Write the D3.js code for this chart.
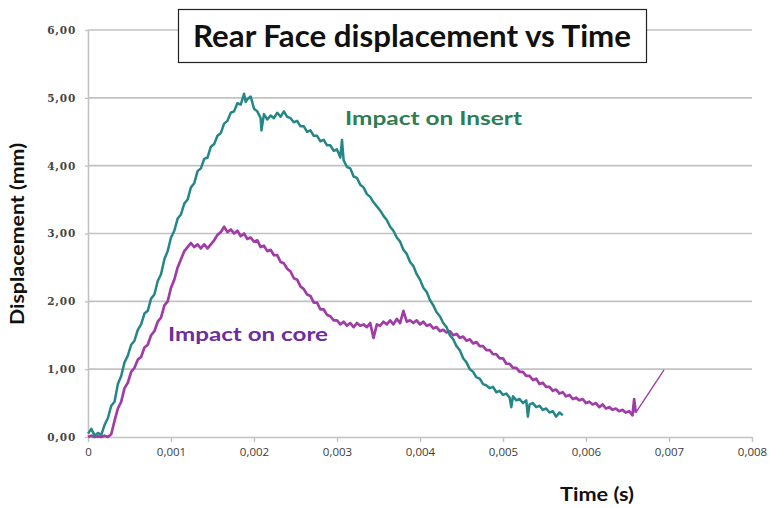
<!DOCTYPE html>
<html><head><meta charset="utf-8">
<script src="https://cdn.jsdelivr.net/npm/d3@7"></script>
<style>
html,body{margin:0;padding:0;background:#fff;}
svg{display:block;}
</style></head>
<body>
<svg id="c" width="770" height="508"></svg>
<script>
// ---- Data (time in ms, displacement in mm) ----
const insertTimeMs = [0.00,0.04,0.08,0.12,0.16,0.20,0.24,0.28,0.32,0.36,0.40,0.44,0.48,0.52,0.56,0.60,0.64,0.68,0.72,0.76,0.80,0.84,0.88,0.92,0.96,1.00,1.04,1.08,1.12,1.16,1.20,1.24,1.28,1.32,1.36,1.40,1.44,1.48,1.52,1.56,1.60,1.64,1.68,1.72,1.76,1.80,1.84,1.88,1.90,1.92,1.96,2.00,2.04,2.08,2.09,2.12,2.16,2.20,2.24,2.28,2.32,2.36,2.40,2.44,2.48,2.52,2.56,2.60,2.64,2.68,2.72,2.76,2.80,2.84,2.88,2.92,2.96,3.00,3.04,3.06,3.08,3.12,3.16,3.20,3.24,3.28,3.32,3.36,3.40,3.44,3.48,3.52,3.56,3.60,3.64,3.68,3.72,3.76,3.80,3.84,3.88,3.92,3.96,4.00,4.04,4.08,4.12,4.16,4.20,4.24,4.28,4.32,4.36,4.40,4.44,4.48,4.52,4.56,4.60,4.64,4.68,4.72,4.76,4.80,4.84,4.88,4.92,4.96,5.00,5.04,5.08,5.10,5.12,5.16,5.20,5.24,5.28,5.30,5.32,5.36,5.40,5.44,5.48,5.52,5.56,5.60,5.64,5.68,5.72];
const insertDisp   = [0.05,0.12,0.02,0.06,0.03,0.18,0.28,0.46,0.52,0.78,0.90,1.10,1.20,1.36,1.42,1.58,1.66,1.82,1.86,2.04,2.10,2.30,2.40,2.62,2.74,2.94,3.04,3.22,3.28,3.44,3.50,3.68,3.74,3.92,3.96,4.10,4.12,4.28,4.32,4.44,4.48,4.62,4.66,4.78,4.80,4.92,4.90,5.06,4.94,4.98,5.02,4.84,4.80,4.70,4.52,4.76,4.68,4.74,4.70,4.78,4.72,4.80,4.72,4.70,4.64,4.66,4.58,4.58,4.50,4.52,4.44,4.44,4.36,4.38,4.30,4.30,4.22,4.24,4.12,4.38,4.08,3.98,3.96,3.84,3.82,3.72,3.68,3.58,3.54,3.46,3.40,3.34,3.26,3.20,3.10,3.04,2.94,2.88,2.76,2.70,2.58,2.52,2.40,2.32,2.20,2.14,2.02,1.94,1.84,1.78,1.68,1.62,1.50,1.44,1.34,1.28,1.16,1.10,1.00,0.96,0.88,0.86,0.78,0.76,0.72,0.74,0.66,0.68,0.62,0.64,0.58,0.44,0.60,0.54,0.56,0.50,0.54,0.30,0.48,0.50,0.44,0.46,0.40,0.42,0.36,0.38,0.30,0.36,0.32];

const coreTimeMs = [0.00,0.04,0.08,0.12,0.16,0.20,0.24,0.28,0.32,0.36,0.40,0.44,0.48,0.52,0.56,0.60,0.64,0.68,0.72,0.76,0.80,0.84,0.88,0.92,0.96,1.00,1.04,1.08,1.12,1.16,1.20,1.24,1.28,1.32,1.36,1.40,1.44,1.48,1.52,1.56,1.60,1.64,1.68,1.72,1.76,1.80,1.84,1.88,1.92,1.96,2.00,2.04,2.08,2.12,2.16,2.20,2.24,2.28,2.32,2.36,2.40,2.44,2.48,2.52,2.56,2.60,2.64,2.68,2.72,2.76,2.80,2.84,2.88,2.92,2.96,3.00,3.04,3.08,3.12,3.16,3.20,3.24,3.28,3.32,3.36,3.40,3.44,3.48,3.52,3.56,3.60,3.64,3.68,3.72,3.76,3.80,3.84,3.88,3.92,3.96,4.00,4.04,4.08,4.12,4.16,4.20,4.24,4.28,4.32,4.36,4.40,4.44,4.48,4.52,4.56,4.60,4.64,4.68,4.72,4.76,4.80,4.84,4.88,4.92,4.96,5.00,5.04,5.08,5.12,5.16,5.20,5.24,5.28,5.32,5.36,5.40,5.44,5.48,5.52,5.56,5.60,5.64,5.68,5.72,5.76,5.80,5.84,5.88,5.92,5.96,6.00,6.04,6.08,6.12,6.16,6.20,6.24,6.28,6.32,6.36,6.40,6.44,6.48,6.52,6.56,6.58,6.60,6.94];
const coreDisp   = [0.00,0.02,0.00,0.01,0.00,0.02,0.00,0.04,0.24,0.42,0.52,0.72,0.80,0.96,1.02,1.14,1.18,1.32,1.36,1.50,1.56,1.70,1.76,1.94,2.00,2.20,2.32,2.50,2.62,2.74,2.80,2.86,2.80,2.84,2.78,2.84,2.78,2.84,2.90,2.98,3.02,3.10,3.02,3.06,3.00,3.04,2.96,3.00,2.92,2.94,2.88,2.90,2.80,2.82,2.74,2.76,2.68,2.68,2.58,2.56,2.48,2.44,2.34,2.32,2.22,2.18,2.10,2.08,1.98,1.98,1.88,1.88,1.80,1.78,1.72,1.72,1.66,1.70,1.64,1.68,1.62,1.68,1.64,1.66,1.62,1.68,1.46,1.66,1.64,1.70,1.66,1.72,1.66,1.74,1.68,1.86,1.70,1.72,1.68,1.72,1.66,1.70,1.64,1.66,1.60,1.62,1.56,1.58,1.54,1.56,1.50,1.52,1.46,1.48,1.42,1.44,1.38,1.40,1.34,1.34,1.28,1.28,1.22,1.22,1.16,1.16,1.08,1.08,1.02,1.02,0.96,0.96,0.90,0.90,0.84,0.86,0.78,0.80,0.74,0.74,0.68,0.70,0.64,0.66,0.60,0.62,0.56,0.58,0.54,0.56,0.50,0.52,0.48,0.50,0.44,0.48,0.42,0.44,0.40,0.42,0.38,0.40,0.36,0.38,0.32,0.56,0.36,0.99];

const yTicks = [0,1,2,3,4,5,6];
const yTickLabels = ["0,00","1,00","2,00","3,00","4,00","5,00","6,00"];
const xTicks = [0,0.001,0.002,0.003,0.004,0.005,0.006,0.007,0.008];
const xTickLabels = ["0","0,001","0,002","0,003","0,004","0,005","0,006","0,007","0,008"];

const titleText = "Rear Face displacement vs Time";
const yTitle = "Displacement (mm)";
const xTitle = "Time (s)";
const seriesNames = ["Impact on Insert","Impact on core"];

// ---- Drawing ----
const svg = d3.select("#c");
const x = d3.scaleLinear().domain([0,0.008]).range([88,752]);
const y = d3.scaleLinear().domain([0,6]).range([437,30]);

const gridColor = "#c2c2c2";
// gridlines
svg.append("g").selectAll("line").data(yTicks.filter(d=>d>0)).join("line")
  .attr("x1",x(0)).attr("x2",x(0.008))
  .attr("y1",d=>y(d)).attr("y2",d=>y(d))
  .attr("stroke",gridColor).attr("stroke-width",1.6);

// x axis
const xAxis = svg.append("g").attr("transform",`translate(0,${y(0)})`)
  .call(d3.axisBottom(x).tickValues(xTicks).tickFormat((d,i)=>xTickLabels[i]).tickSize(5).tickSizeOuter(0).tickPadding(6));
xAxis.select(".domain").attr("stroke",gridColor).attr("stroke-width",1.6);
xAxis.selectAll(".tick line").attr("stroke",gridColor).attr("stroke-width",1.4);
xAxis.selectAll("text").attr("font-family","'Open Sans', sans-serif").attr("font-size",11.5).attr("fill","#3a3a3a");

// y axis
const yAxis = svg.append("g").attr("transform",`translate(${x(0)},0)`)
  .call(d3.axisLeft(y).tickValues(yTicks).tickFormat((d,i)=>yTickLabels[i]).tickSize(3).tickSizeOuter(0).tickPadding(9));
yAxis.select(".domain").attr("stroke",gridColor).attr("stroke-width",1.6);
yAxis.selectAll(".tick line").attr("stroke",gridColor).attr("stroke-width",1.4);
yAxis.selectAll("text").attr("font-family","'DejaVu Serif', serif").attr("font-size",10.5).attr("font-weight","bold").attr("fill","#444").attr("letter-spacing","0.8");

// series
const line = d3.line().x(d=>x(d[0]/1000)).y(d=>y(d[1]));
const insertPts = insertTimeMs.map((t,i)=>[t,insertDisp[i]]);
const corePts = coreTimeMs.map((t,i)=>[t,coreDisp[i]]);

svg.append("path").datum(corePts.slice(0,-1)).attr("d",line)
  .attr("fill","none").attr("stroke","#a03ca6").attr("stroke-width",2.7).attr("stroke-linejoin","round");
svg.append("path").datum(corePts.slice(-2)).attr("d",line)
  .attr("fill","none").attr("stroke","#9a3aa0").attr("stroke-width",1.3);
svg.append("path").datum(insertPts).attr("d",line)
  .attr("fill","none").attr("stroke","#248686").attr("stroke-width",2.5).attr("stroke-linejoin","round");

// title box
svg.append("rect").attr("x",178.5).attr("y",9.5).attr("width",468).attr("height",53)
  .attr("fill","#fff").attr("stroke","#222").attr("stroke-width",1.2);
svg.append("text").attr("x",412).attr("y",47).attr("text-anchor","middle")
  .attr("font-family","Lato, sans-serif").attr("font-weight","bold").attr("font-size",31)
  .attr("textLength",438).attr("lengthAdjust","spacingAndGlyphs").attr("fill","#111").text(titleText);

// axis titles
svg.append("text").attr("transform","translate(24,234) rotate(-90)").attr("text-anchor","middle")
  .attr("font-family","Lato, sans-serif").attr("font-weight","bold").attr("font-size",19)
  .attr("textLength",182).attr("lengthAdjust","spacingAndGlyphs").attr("fill","#111").text(yTitle);
svg.append("text").attr("x",597).attr("y",501).attr("text-anchor","middle")
  .attr("font-family","Lato, sans-serif").attr("font-weight","bold").attr("font-size",18)
  .attr("textLength",74).attr("lengthAdjust","spacingAndGlyphs").attr("fill","#111").text(xTitle);

// series labels
svg.append("text").attr("x",345).attr("y",125)
  .attr("font-family","Lato, sans-serif").attr("font-weight","bold").attr("font-size",19)
  .attr("textLength",177).attr("lengthAdjust","spacingAndGlyphs").attr("fill","#2e7d55").text(seriesNames[0]);
svg.append("text").attr("x",168).attr("y",341)
  .attr("font-family","Lato, sans-serif").attr("font-weight","bold").attr("font-size",19)
  .attr("textLength",160).attr("lengthAdjust","spacingAndGlyphs").attr("fill","#6e2c9c").text(seriesNames[1]);
</script>
</body></html>
